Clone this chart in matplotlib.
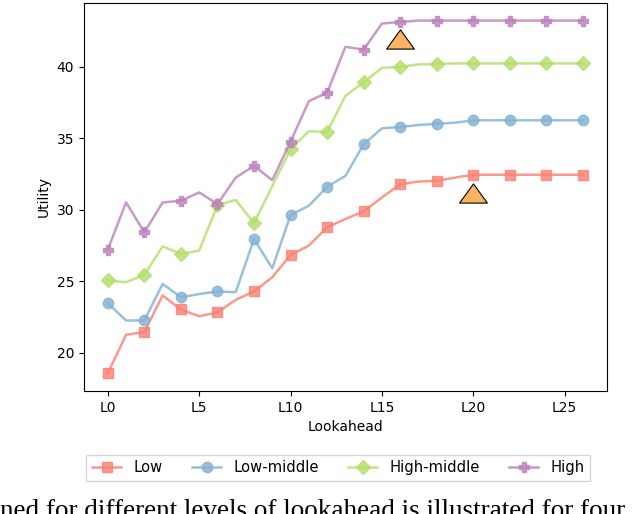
import numpy as np
import matplotlib
matplotlib.use("Agg")
import matplotlib.pyplot as plt
from matplotlib.path import Path

# lookahead levels L0..L26
lookahead = list(range(27))

low = [18.55, 21.25, 21.44, 24.0, 23.02, 22.55, 22.81, 23.7, 24.28, 25.28,
       26.84, 27.49, 28.77, 29.35, 29.88, 30.86, 31.79, 31.97, 32.02, 32.25,
       32.45, 32.45, 32.45, 32.45, 32.45, 32.45, 32.45]
low_middle = [23.46, 22.25, 22.25, 24.81, 23.88, 24.1, 24.28, 24.23, 27.95, 25.9,
              29.63, 30.28, 31.6, 32.37, 34.58, 35.7, 35.79, 35.93, 36.02, 36.09,
              36.26, 36.26, 36.26, 36.26, 36.26, 36.26, 36.26]
high_middle = [25.05, 24.93, 25.44, 27.44, 26.91, 27.14, 30.33, 30.68, 29.07, 31.65,
               34.24, 35.5, 35.44, 37.96, 38.93, 39.93, 40.0, 40.17, 40.21, 40.24,
               40.24, 40.24, 40.24, 40.24, 40.24, 40.24, 40.24]
high = [27.21, 30.51, 28.42, 30.51, 30.63, 31.21, 30.4, 32.25, 33.07, 32.07,
        34.77, 37.6, 38.19, 41.4, 41.21, 43.03, 43.14, 43.24, 43.24, 43.24,
        43.24, 43.24, 43.24, 43.24, 43.24, 43.24, 43.24]

# highlighted points (orange triangles)
tri_x = [16, 20]
tri_y = [41.93, 31.19]

xtick_pos = [0, 5, 10, 15, 20, 25]
xtick_labels = ["L0", "L5", "L10", "L15", "L20", "L25"]

series = [
    ("Low", low, "#fb8072", "s", 7),
    ("Low-middle", low_middle, "#80b1d3", "o", 7.5),
    ("High-middle", high_middle, "#b3de69", "D", 7),
    ("High", high, "#bc80bd", "P", 7),
]

fig = plt.figure(figsize=(6.38, 5.14), dpi=100)
ax = fig.add_axes([0.1317, 0.2393, 0.8193, 0.755])

for name, vals, col, mk, ms in series:
    ax.plot(lookahead, vals, color=col, marker=mk, markersize=ms, markevery=2,
            linewidth=1.8, alpha=0.8, label=name)

# flattened triangle marker
tri = Path([(0, 0.69), (-1, -0.69), (1, -0.69), (0, 0.69)],
           [Path.MOVETO, Path.LINETO, Path.LINETO, Path.CLOSEPOLY])
ax.plot(tri_x, tri_y, linestyle="none", marker=tri, markersize=20,
        markerfacecolor="#fdb462", markeredgecolor="black", markeredgewidth=0.8)

ax.set_xticks(xtick_pos)
ax.set_xticklabels(xtick_labels)
ax.set_yticks([20, 25, 30, 35, 40])
ax.set_xlabel("Lookahead")
ax.set_ylabel("Utility")

fig.legend(loc="center left", bbox_to_anchor=(0.1348, 0.0895), ncol=4, fancybox=False,
           edgecolor="#cccccc", handlelength=2, columnspacing=2.0, fontsize=10.6,
           borderaxespad=0)

fig.text(0.0, 1 - 499 / 514, "ned for different levels of lookahead is illustrated for four",
         family="Liberation Serif", fontsize=19.5, va="top", ha="left")

fig.savefig("out.png", dpi=100)
